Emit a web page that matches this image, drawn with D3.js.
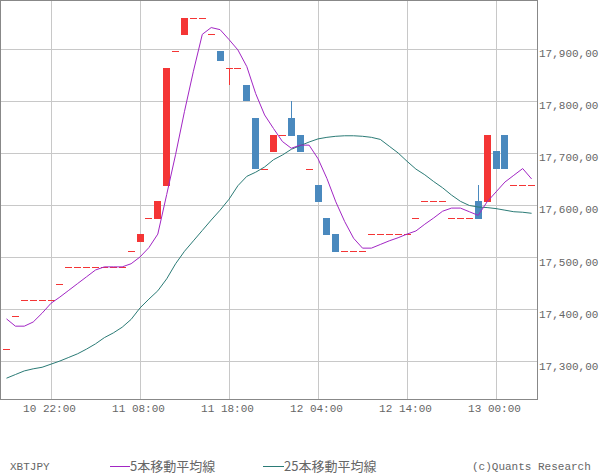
<!DOCTYPE html>
<html><head><meta charset="utf-8">
<script src="https://cdn.jsdelivr.net/npm/d3@7"></script>
<style>
body{margin:0;background:#fff}
svg text{font-family:"Liberation Mono",monospace;font-size:11px;fill:#666}
</style>
</head><body>
<svg id="c" width="600" height="475"></svg>
<script>
const times = [
 "10 17:00","10 18:00","10 19:00","10 20:00","10 21:00","10 22:00","10 23:00",
 "11 00:00","11 01:00","11 02:00","11 03:00","11 04:00","11 05:00","11 06:00","11 07:00","11 08:00","11 09:00","11 10:00","11 11:00","11 12:00","11 13:00","11 14:00","11 15:00","11 16:00","11 17:00","11 18:00","11 19:00","11 20:00","11 21:00","11 22:00","11 23:00",
 "12 00:00","12 01:00","12 02:00","12 03:00","12 04:00","12 05:00","12 06:00","12 07:00","12 08:00","12 09:00","12 10:00","12 11:00","12 12:00","12 13:00","12 14:00","12 15:00","12 16:00","12 17:00","12 18:00","12 19:00","12 20:00","12 21:00","12 22:00","12 23:00",
 "13 00:00","13 01:00","13 02:00","13 03:00","13 04:00"];

const open = [17323,17386,17417,17417,17417,17417,17449,17481,17481,17481,
 17481,17481,17481,17481,17511,17529,17574,17573,17637,17896,
 17927,17960,17960,17929,17896,17863,17863,17831,17767,17670,
 17702,17735,17767,17735,17670,17638,17575,17544,17511,17511,
 17511,17544,17544,17544,17544,17544,17575,17607,17607,17607,
 17574,17574,17574,17608,17606,17704,17735,17638,17638,17638];
const high = [17323,17386,17417,17417,17417,17417,17449,17481,17481,17481,
 17481,17481,17481,17481,17511,17544,17574,17608,17863,17896,
 17960,17960,17960,17929,17896,17863,17863,17831,17767,17670,
 17735,17735,17800,17735,17670,17638,17575,17544,17511,17511,
 17511,17544,17544,17544,17544,17544,17575,17607,17607,17607,
 17574,17574,17574,17638,17735,17704,17735,17638,17638,17638];
const low = [17323,17386,17417,17417,17417,17417,17449,17481,17481,17481,
 17481,17481,17481,17481,17511,17529,17574,17573,17637,17896,
 17927,17960,17960,17929,17877,17831,17863,17799,17670,17670,
 17702,17735,17733,17702,17670,17606,17543,17510,17511,17511,
 17511,17544,17544,17544,17544,17544,17575,17607,17607,17607,
 17574,17574,17574,17573,17606,17669,17669,17638,17638,17638];
const close = [17323,17386,17417,17417,17417,17417,17449,17481,17481,17481,
 17481,17481,17481,17481,17511,17544,17574,17608,17863,17896,
 17960,17960,17960,17929,17877,17863,17863,17799,17670,17670,
 17735,17735,17733,17702,17670,17606,17543,17510,17511,17511,
 17511,17544,17544,17544,17544,17544,17575,17607,17607,17607,
 17574,17574,17574,17573,17735,17669,17669,17638,17638,17638];
const ma5 = [17381,17367,17367,17375,17392,17411,17423,17436,17449,17462,
 17475,17481,17481,17481,17487,17500,17518,17544,17620,17697,
 17780,17857,17928,17941,17937,17918,17898,17866,17814,17773,
 17747,17722,17709,17715,17715,17689,17651,17606,17568,17536,
 17517,17517,17524,17531,17537,17544,17550,17563,17575,17588,
 17594,17594,17587,17580,17606,17625,17644,17657,17670,17650];
const ma25 = [17267,17274,17281,17285,17288,17294,17300,17307,17314,17323,
 17333,17345,17354,17365,17380,17402,17419,17435,17458,17487,
 17511,17531,17551,17571,17590,17611,17637,17655,17663,17673,
 17687,17696,17707,17714,17721,17727,17730,17732,17733,17733,
 17732,17730,17726,17713,17700,17684,17669,17658,17645,17633,
 17619,17607,17599,17596,17595,17593,17590,17587,17586,17584];

const xTickLabels = ["10 22:00","11 08:00","11 18:00","12 04:00","12 14:00","13 00:00"];
const yTicks = [17300,17400,17500,17600,17700,17800,17900];
const yTickLabels = ["17,300,00","17,400,00","17,500,00","17,600,00","17,700,00","17,800,00","17,900,00"];
const seriesNames = ["XBTJPY","5本移動平均線","25本移動平均線"];

const RED="#f43535", BLUE="#4a89be", PURPLE="#a226c4", TEAL="#2b7b76", GRID="#c8c8c8", FRAME="#888";
const W=537, H=399;

const svg = d3.select("#c");
const x = d3.scaleBand().domain(times).range([2.05, 536.05]);
const cx = t => x(t) + x.bandwidth()/2;
const y = d3.scaleLinear().domain([17227, 17994]).range([H, 0]);

// grid
const grid = svg.append("g");
grid.selectAll("line.h").data(yTicks).join("line")
  .attr("x1",0).attr("x2",W)
  .attr("y1",d=>Math.round(y(d))+0.5).attr("y2",d=>Math.round(y(d))+0.5)
  .attr("stroke",GRID);
grid.selectAll("line.v").data(xTickLabels).join("line")
  .attr("y1",0).attr("y2",H)
  .attr("x1",d=>Math.round(cx(d))+0.5).attr("x2",d=>Math.round(cx(d))+0.5)
  .attr("stroke",GRID);

// candles
const data = times.map((t,i)=>({t,o:open[i],h:high[i],l:low[i],c:close[i]}));
const cg = svg.append("g");
const cand = cg.selectAll("g").data(data).join("g");
cand.filter(d=>d.h>Math.max(d.o,d.c)||d.l<Math.min(d.o,d.c))
  .append("line")
  .attr("x1",d=>Math.round(cx(d.t)-3.5)+3.5).attr("x2",d=>Math.round(cx(d.t)-3.5)+3.5)
  .attr("y1",d=>Math.round(y(d.h))).attr("y2",d=>Math.round(y(d.l)))
  .attr("stroke",d=>d.c>=d.o?RED:BLUE);
cand.append("rect")
  .attr("x",d=>Math.round(cx(d.t)-3.5))
  .attr("width",7)
  .attr("y",d=>Math.round(y(Math.max(d.o,d.c))))
  .attr("height",d=>Math.max(1,Math.round(y(Math.min(d.o,d.c)))-Math.round(y(Math.max(d.o,d.c)))))
  .attr("fill",d=>d.c>=d.o?RED:BLUE);

// moving averages
const line = d3.line().x((d,i)=>cx(times[i])).y(d=>y(d));
svg.append("path").datum(ma25).attr("d",line).attr("fill","none").attr("stroke",TEAL).attr("stroke-width",1);
svg.append("path").datum(ma5).attr("d",line).attr("fill","none").attr("stroke",PURPLE).attr("stroke-width",1);

// frame
svg.append("rect").attr("x",0.5).attr("y",0.5).attr("width",W).attr("height",H)
  .attr("fill","none").attr("stroke",FRAME);

// axes
const ay = svg.append("g").attr("transform",`translate(${W},0)`)
  .call(d3.axisRight(y).tickValues(yTicks).tickFormat((d,i)=>yTickLabels[i]).tickSize(0).tickPadding(2));
ay.select(".domain").remove();
ay.selectAll("text").attr("dy","0.73em").attr("fill","#666");

const ax = svg.append("g").attr("transform",`translate(0,${H})`)
  .call(d3.axisBottom(x).tickValues(xTickLabels).tickSize(0).tickPadding(5));
ax.select(".domain").remove();
ax.selectAll("text").attr("dx",-1.5).attr("fill","#666");
ay.attr("font-family",null).attr("font-size",null);
ax.attr("font-family",null).attr("font-size",null);

// legend
const lg = svg.append("g");
lg.append("text").attr("x",10).attr("y",470).text(seriesNames[0]);
lg.append("line").attr("x1",110).attr("x2",130).attr("y1",466.5).attr("y2",466.5).attr("stroke",PURPLE);
lg.append("text").attr("x",130).attr("y",471).style("font-family",'"Noto Sans CJK JP",sans-serif').style("font-size","13px").text(seriesNames[1]);
lg.append("line").attr("x1",263).attr("x2",284).attr("y1",466.5).attr("y2",466.5).attr("stroke",TEAL);
lg.append("text").attr("x",284).attr("y",471).style("font-family",'"Noto Sans CJK JP",sans-serif').style("font-size","13px").text(seriesNames[2]);
lg.append("text").attr("x",472).attr("y",470).text("(c)Quants Research");
</script>
</body></html>
